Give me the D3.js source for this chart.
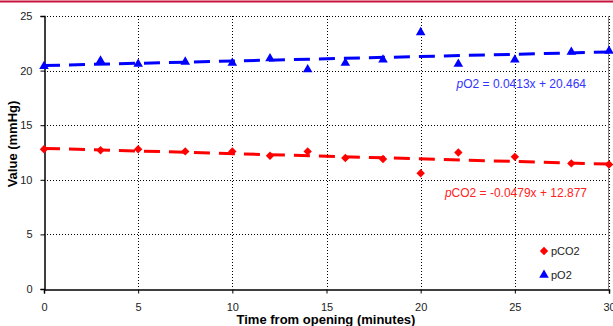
<!DOCTYPE html>
<html lang="en">
<head>
<meta charset="UTF-8">
<title>pCO2 and pO2 vs time from opening</title>
<script src="https://d3js.org/d3.v7.min.js"></script>
<style>
    body { margin: 0; padding: 0; background: #fff; }
    svg { display: block; font-family: "Liberation Sans", Arial, sans-serif; }
</style>
</head>
<body>
<div id="chart"></div>
<script>
// data
const times = [0, 3, 5, 7.5, 10, 12, 14, 16, 18, 20, 22, 25, 28, 30];
const pCO2 = [12.8, 12.7, 12.8, 12.6, 12.6, 12.2, 12.6, 12.0, 11.9, 10.6, 12.5, 12.1, 11.5, 11.4];
const pO2 = [20.4, 20.9, 20.6, 20.8, 20.7, 21.1, 20.1, 20.7, 21.0, 23.5, 20.6, 21.0, 21.7, 21.8];
const xTicks = [0, 5, 10, 15, 20, 25, 30];
const yTicks = [0, 5, 10, 15, 20, 25];
// trendlines (slope, intercept)
const fitCO2 = [-0.0479, 12.877];
const fitO2 = [0.0413, 20.464];

const W = 613, H = 326;
const margin = {top: 16, right: 4, bottom: 37, left: 44};

const svg = d3.select("#chart").append("svg")
    .attr("width", W).attr("height", H);

// crimson rule at the top
svg.append("line")
    .attr("x1", 0).attr("x2", W).attr("y1", 1.5).attr("y2", 1.5)
    .attr("stroke", "#c8143c").attr("stroke-width", 2);

const x = d3.scaleLinear().domain([0, 30]).range([margin.left, W - margin.right]);
const y = d3.scaleLinear().domain([0, 25]).range([H - margin.bottom, margin.top]);

// gridlines
svg.append("g").selectAll("line")
    .data(yTicks.slice(1)).enter().append("line")
    .attr("x1", x(0)).attr("x2", x(30))
    .attr("y1", d => Math.round(y(d)) + 0.5).attr("y2", d => Math.round(y(d)) + 0.5)
    .attr("stroke", "#000").attr("stroke-dasharray", "1,2");
svg.append("g").selectAll("line")
    .data(xTicks.slice(1)).enter().append("line")
    .attr("x1", d => Math.round(x(d)) + 0.5).attr("x2", d => Math.round(x(d)) + 0.5)
    .attr("y1", y(25)).attr("y2", y(0))
    .attr("stroke", "#000").attr("stroke-dasharray", "1,2");

// right border
svg.append("line")
    .attr("x1", Math.round(x(30)) - 0.5).attr("x2", Math.round(x(30)) - 0.5)
    .attr("y1", y(25)).attr("y2", y(0))
    .attr("stroke", "#888");

// axes
const xAxis = svg.append("g")
    .attr("transform", `translate(0,${Math.round(y(0)) + 0.5})`)
    .call(d3.axisBottom(x).tickValues(xTicks).tickSize(4).tickPadding(10));
const yAxis = svg.append("g")
    .attr("transform", `translate(${Math.round(x(0)) + 0.5},0)`)
    .call(d3.axisLeft(y).tickValues(yTicks).tickSize(4).tickPadding(8));
[xAxis, yAxis].forEach(a => {
    a.select(".domain").attr("stroke", "#000").attr("stroke-width", 1.5);
    a.selectAll("text").attr("font-size", 11).attr("fill", "#222")
        .attr("font-family", "Liberation Sans, Arial, sans-serif");
});

// trendlines
function trend(fit, color) {
    svg.append("line")
        .attr("x1", x(0)).attr("y1", y(fit[1]))
        .attr("x2", x(30)).attr("y2", y(fit[0] * 30 + fit[1]))
        .attr("stroke", color).attr("stroke-width", 3)
        .attr("stroke-dasharray", "16,9");
}
trend(fitO2, "#0000ff");
trend(fitCO2, "#ff0000");

// markers
const diamond = d3.symbol().type(d3.symbolDiamond2).size(45);
const triangle = d3.symbol().type(d3.symbolTriangle).size(40);

svg.append("g").selectAll("path")
    .data(times).enter().append("path")
    .attr("d", diamond)
    .attr("transform", (d, i) => `translate(${x(d)},${y(pCO2[i])})`)
    .attr("fill", "#ff0000");
svg.append("g").selectAll("path")
    .data(times).enter().append("path")
    .attr("d", triangle)
    .attr("transform", (d, i) => `translate(${x(d)},${y(pO2[i])})`)
    .attr("fill", "#0000ff");

// trend equations
function eq(label, fit, color, xr, yb) {
    const t = svg.append("text")
        .attr("x", xr).attr("y", yb)
        .attr("text-anchor", "end")
        .attr("font-size", 12).attr("fill", color);
    t.append("tspan").attr("font-style", "italic").text("p");
    t.append("tspan").text(label + " = " + fit[0] + "x + " + fit[1].toFixed(3));
}
eq("O2", fitO2, "#3333ff", 586, 88);
eq("CO2", fitCO2, "#ff2222", 587, 197);

// legend
const legend = svg.append("g");
legend.append("path").attr("d", diamond)
    .attr("transform", "translate(544,251)").attr("fill", "#ff0000");
legend.append("path").attr("d", triangle)
    .attr("transform", "translate(544,275)").attr("fill", "#0000ff");
legend.append("text").attr("x", 551).attr("y", 255)
    .attr("font-size", 11).attr("fill", "#222").text("pCO2");
legend.append("text").attr("x", 551).attr("y", 279)
    .attr("font-size", 11).attr("fill", "#222").text("pO2");

// axis titles
svg.append("text")
    .attr("x", 326).attr("y", 324)
    .attr("text-anchor", "middle")
    .attr("font-size", 13).attr("font-weight", "bold")
    .text("Time from opening (minutes)");
svg.append("text")
    .attr("transform", "translate(17,144) rotate(-90)")
    .attr("text-anchor", "middle")
    .attr("font-size", 13).attr("font-weight", "bold")
    .text("Value (mmHg)");
</script>
</body>
</html>
